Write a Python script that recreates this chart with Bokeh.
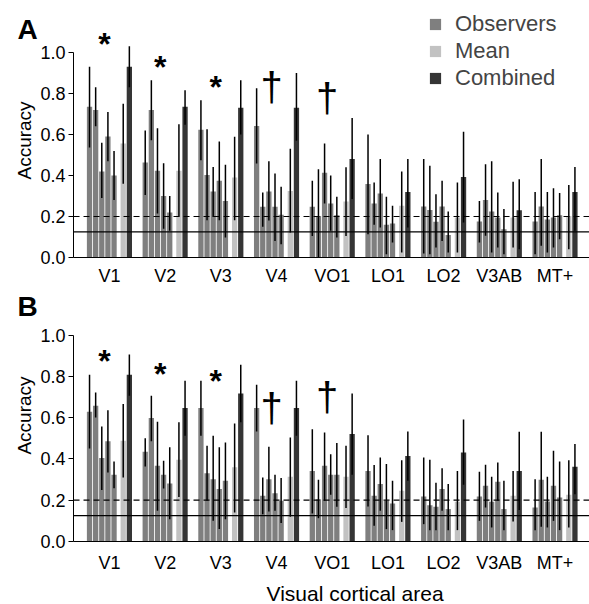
import math
from bokeh.plotting import figure
from bokeh.models import (Range1d, FixedTicker, Legend, LegendItem, Label,
                          NumeralTickFormatter)
from bokeh.layouts import column
from bokeh.embed import file_html
from bokeh.resources import INLINE
from bokeh.core.properties import value

FONT = "Liberation Sans"

areas = ["V1", "V2", "V3", "V4", "VO1", "LO1", "LO2", "V3AB", "MT+"]
chance_lines = [0.2, 0.125]

# ---------------- Panel A ----------------
obsA = [[0.735, 0.72, 0.42, 0.59, 0.40],
        [0.463, 0.72, 0.423, 0.30, 0.22],
        [0.623, 0.403, 0.322, 0.374, 0.276],
        [0.642, 0.247, 0.322, 0.247, 0.208],
        [0.247, 0.203, 0.413, 0.263, 0.206],
        [0.358, 0.263, 0.312, 0.16, 0.166],
        [0.249, 0.232, 0.174, 0.249, 0.11],
        [0.176, 0.28, 0.224, 0.195, 0.138],
        [0.176, 0.249, 0.185, 0.195, 0.206]]
obsA_lo = [[0.537, 0.64, 0.29, 0.47, 0.28],
           [0.305, 0.572, 0.215, 0.14, 0.13],
           [0.475, 0.182, 0.198, 0.182, 0.098],
           [0.459, 0.15, 0.18, 0.08, 0.065],
           [0.105, 0.0, 0.263, 0.13, 0.098],
           [0.114, 0.16, 0.146, 0.016, 0.073],
           [0.02, 0.016, 0.049, 0.081, 0.024],
           [0.073, 0.106, 0.024, 0.049, 0.016],
           [0.016, 0.057, 0.024, 0.049, 0.089]]
obsA_hi = [[0.93, 0.83, 0.56, 0.71, 0.52],
           [0.62, 0.865, 0.63, 0.46, 0.30],
           [0.767, 0.626, 0.442, 0.566, 0.452],
           [0.826, 0.317, 0.47, 0.41, 0.345],
           [0.374, 0.43, 0.556, 0.40, 0.296],
           [0.60, 0.366, 0.48, 0.296, 0.252],
           [0.48, 0.447, 0.309, 0.374, 0.224],
           [0.276, 0.455, 0.47, 0.317, 0.236],
           [0.32, 0.48, 0.32, 0.338, 0.315]]
meanA = [0.556, 0.423, 0.39, 0.325, 0.273, 0.252, 0.195, 0.195, 0.203]
meanA_lo = [0.36, 0.20, 0.182, 0.122, 0.105, 0.024, 0.024, 0.049, 0.04]
meanA_hi = [0.75, 0.65, 0.589, 0.53, 0.44, 0.42, 0.366, 0.369, 0.354]
combA = [0.93, 0.735, 0.73, 0.73, 0.48, 0.32, 0.393, 0.231, 0.32]
combA_lo = [0.83, 0.647, 0.60, 0.57, 0.285, 0.146, 0.171, 0.04, 0.13]
combA_hi = [1.03, 0.816, 0.865, 0.90, 0.68, 0.48, 0.613, 0.382, 0.442]
starA_idx = [0, 1, 2]
starA_y = [1.057, 0.943, 0.846]
dagA_idx = [3, 4]
dagA_y = [0.833, 0.777]

# ---------------- Panel B ----------------
obsB = [[0.628, 0.657, 0.404, 0.485, 0.323],
        [0.435, 0.598, 0.367, 0.323, 0.281],
        [0.646, 0.331, 0.302, 0.254, 0.294],
        [0.646, 0.221, 0.302, 0.234, 0.197],
        [0.342, 0.205, 0.367, 0.323, 0.323],
        [0.342, 0.221, 0.278, 0.197, 0.184],
        [0.218, 0.176, 0.168, 0.254, 0.157],
        [0.218, 0.27, 0.192, 0.289, 0.157],
        [0.165, 0.299, 0.194, 0.27, 0.213]]
obsB_lo = [[0.45, 0.60, 0.249, 0.334, 0.258],
           [0.363, 0.485, 0.149, 0.257, 0.108],
           [0.512, 0.197, 0.10, 0.06, 0.108],
           [0.533, 0.132, 0.145, 0.149, 0.089],
           [0.136, 0.113, 0.197, 0.226, 0.168],
           [0.17, 0.076, 0.149, 0.06, 0.055],
           [0.084, 0.055, 0.055, 0.149, 0.055],
           [0.10, 0.165, 0.068, 0.197, 0.055],
           [0.055, 0.071, 0.068, 0.10, 0.055]]
obsB_hi = [[0.808, 0.722, 0.557, 0.636, 0.388],
           [0.50, 0.706, 0.58, 0.391, 0.456],
           [0.779, 0.464, 0.512, 0.456, 0.48],
           [0.759, 0.31, 0.459, 0.323, 0.307],
           [0.544, 0.299, 0.528, 0.423, 0.477],
           [0.515, 0.37, 0.407, 0.375, 0.294],
           [0.407, 0.396, 0.284, 0.355, 0.278],
           [0.338, 0.372, 0.313, 0.383, 0.294],
           [0.302, 0.532, 0.313, 0.439, 0.388]]
meanB = [0.488, 0.396, 0.359, 0.313, 0.313, 0.246, 0.192, 0.221, 0.226]
meanB_lo = [0.31, 0.216, 0.14, 0.12, 0.162, 0.095, 0.055, 0.097, 0.068]
meanB_hi = [0.666, 0.577, 0.572, 0.504, 0.464, 0.394, 0.342, 0.342, 0.394]
combB = [0.808, 0.646, 0.717, 0.646, 0.52, 0.414, 0.431, 0.342, 0.362]
combB_lo = [0.706, 0.512, 0.577, 0.512, 0.323, 0.294, 0.275, 0.152, 0.229]
combB_hi = [0.905, 0.779, 0.856, 0.779, 0.717, 0.533, 0.591, 0.532, 0.472]
starB_idx = [0, 1, 2]
starB_y = [0.89, 0.827, 0.793]
dagB_idx = [3, 4]
dagB_y = [0.646, 0.70]

C_OBS = "#7f7f7f"
C_MEAN = "#c2c2c2"
C_COMB = "#353535"

SLOT = 0.11
BAR_W = 0.095
HALF = 3.75 * SLOT
OBS_OFF = [(s + 0.5) * SLOT - HALF for s in range(5)]
MEAN_OFF = 6.0 * SLOT - HALF
COMB_OFF = 7.0 * SLOT - HALF
SIG_OFF = -0.09

X_AXIS_START = -0.645
X_END = 8.619
X_START = -1.956


def make_panel(obs, obs_lo, obs_hi, mean, mean_lo, mean_hi, comb, comb_lo, comb_hi,
               star_idx, star_y, dag_idx, dag_y, height, y_start, y_end,
               letter, letter_y, ylabel_y, with_legend, xlabel, xlabel_y, label_standoff):
    p = figure(width=589, height=height,
               x_range=Range1d(X_START, X_END), y_range=Range1d(y_start, y_end),
               output_backend="svg", toolbar_location=None,
               min_border_left=0, min_border_right=0, min_border_top=0,
               min_border_bottom=0)
    p.outline_line_color = None
    p.xgrid.visible = False
    p.ygrid.visible = False

    ox, oy, olo, ohi = [], [], [], []
    for i in range(len(areas)):
        for k in range(5):
            ox.append(i + OBS_OFF[k])
            oy.append(obs[i][k])
            olo.append(obs_lo[i][k])
            ohi.append(obs_hi[i][k])
    mx = [i + MEAN_OFF for i in range(len(areas))]
    cx = [i + COMB_OFF for i in range(len(areas))]

    r_obs = p.vbar(x=ox, top=oy, width=BAR_W, bottom=0, fill_color=C_OBS, line_color=None)
    r_mean = p.vbar(x=mx, top=mean, width=BAR_W, bottom=0, fill_color=C_MEAN, line_color=None)
    r_comb = p.vbar(x=cx, top=comb, width=BAR_W, bottom=0, fill_color=C_COMB, line_color=None)

    ex = ox + mx + cx
    elo = olo + list(mean_lo) + list(comb_lo)
    ehi = ohi + list(mean_hi) + list(comb_hi)
    p.segment(x0=ex, y0=elo, x1=ex, y1=ehi, line_color="black", line_width=1.5)

    # chance-level reference lines, starting at the y axis
    p.ray(x=[X_AXIS_START], y=[chance_lines[0]], length=0, angle=0,
          line_color="black", line_width=1.2, line_dash="6 4")
    p.ray(x=[X_AXIS_START], y=[chance_lines[1]], length=0, angle=0,
          line_color="black", line_width=1.2)

    p.text(x=[i + SIG_OFF for i in star_idx], y=star_y, text=["*"] * len(star_idx),
           text_font=value(FONT), text_font_size="32px", text_font_style="bold",
           text_align="center", text_baseline="middle", y_offset=3)
    p.text(x=[i + SIG_OFF for i in dag_idx], y=dag_y, text=["\u2020"] * len(dag_idx),
           text_font=value(FONT), text_font_size="40px", text_font_style="normal",
           text_align="center", text_baseline="middle")

    # panel letter
    p.add_layout(Label(x=-1.47, y=letter_y, text=letter, text_font=FONT,
                       text_font_size="28px", text_font_style="bold",
                       text_align="center", text_baseline="middle",
                       text_color="black"))
    # y-axis title
    p.add_layout(Label(x=-1.525, y=ylabel_y, text="Accuracy", angle=math.pi / 2,
                       text_font=FONT, text_font_size="19px", text_font_style="normal",
                       text_align="center", text_baseline="middle", text_color="black"))
    if xlabel:
        p.add_layout(Label(x=4.41, y=xlabel_y, text=xlabel, text_font=FONT,
                           text_font_size="21px", text_font_style="normal",
                           text_align="center", text_baseline="middle",
                           text_color="black"))

    p.xaxis.fixed_location = 0
    p.xaxis.ticker = FixedTicker(ticks=list(range(len(areas))))
    p.xaxis.major_label_overrides = {i: a for i, a in enumerate(areas)}
    p.xaxis.bounds = (X_AXIS_START, X_END)
    p.xaxis.major_tick_out = 0
    p.xaxis.major_tick_in = 0
    p.xaxis.minor_tick_out = 0
    p.xaxis.minor_tick_in = 0
    p.xaxis.major_label_standoff = label_standoff
    p.xaxis.major_label_text_font = FONT
    p.xaxis.major_label_text_font_size = "18px"
    p.xaxis.major_label_text_color = "black"
    p.xaxis.axis_line_color = "black"

    p.yaxis.fixed_location = X_AXIS_START
    p.yaxis.ticker = FixedTicker(ticks=[0.0, 0.2, 0.4, 0.6, 0.8, 1.0])
    p.yaxis.formatter = NumeralTickFormatter(format="0.0")
    p.yaxis.bounds = (0, 1)
    p.yaxis.major_tick_out = 5
    p.yaxis.major_tick_in = 0
    p.yaxis.minor_tick_out = 0
    p.yaxis.minor_tick_in = 0
    p.yaxis.major_label_standoff = 3
    p.yaxis.major_label_text_font = FONT
    p.yaxis.major_label_text_font_size = "18px"
    p.yaxis.major_label_text_color = "black"
    p.yaxis.axis_line_color = "black"

    if with_legend:
        legend = Legend(items=[LegendItem(label="Observers", renderers=[r_obs]),
                               LegendItem(label="Mean", renderers=[r_mean]),
                               LegendItem(label="Combined", renderers=[r_comb])],
                        location=(428, 196), orientation="vertical",
                        border_line_alpha=0, background_fill_alpha=0,
                        glyph_width=14, glyph_height=14, label_standoff=13,
                        label_text_font=FONT, label_text_font_size="22px",
                        spacing=1, padding=0, margin=0)
        p.add_layout(legend)
    return p


pA = make_panel(obsA, obsA_lo, obsA_hi, meanA, meanA_lo, meanA_hi, combA, combA_lo, combA_hi,
                starA_idx, starA_y, dagA_idx, dagA_y, height=287,
                y_start=-30 / 205, y_end=257 / 205,
                letter="A", letter_y=1.112, ylabel_y=0.571, with_legend=True,
                xlabel=None, xlabel_y=None, label_standoff=8)
pB = make_panel(obsB, obsB_lo, obsB_hi, meanB, meanB_lo, meanB_hi, combB, combB_lo, combB_hi,
                starB_idx, starB_y, dagB_idx, dagB_y, height=317,
                y_start=-63 / 206.5, y_end=254 / 206.5,
                letter="B", letter_y=1.138, ylabel_y=0.610, with_legend=False,
                xlabel="Visual cortical area", xlabel_y=-0.252, label_standoff=11)

layout = column(pA, pB)
open("out.html", "w").write(file_html(layout, INLINE))
